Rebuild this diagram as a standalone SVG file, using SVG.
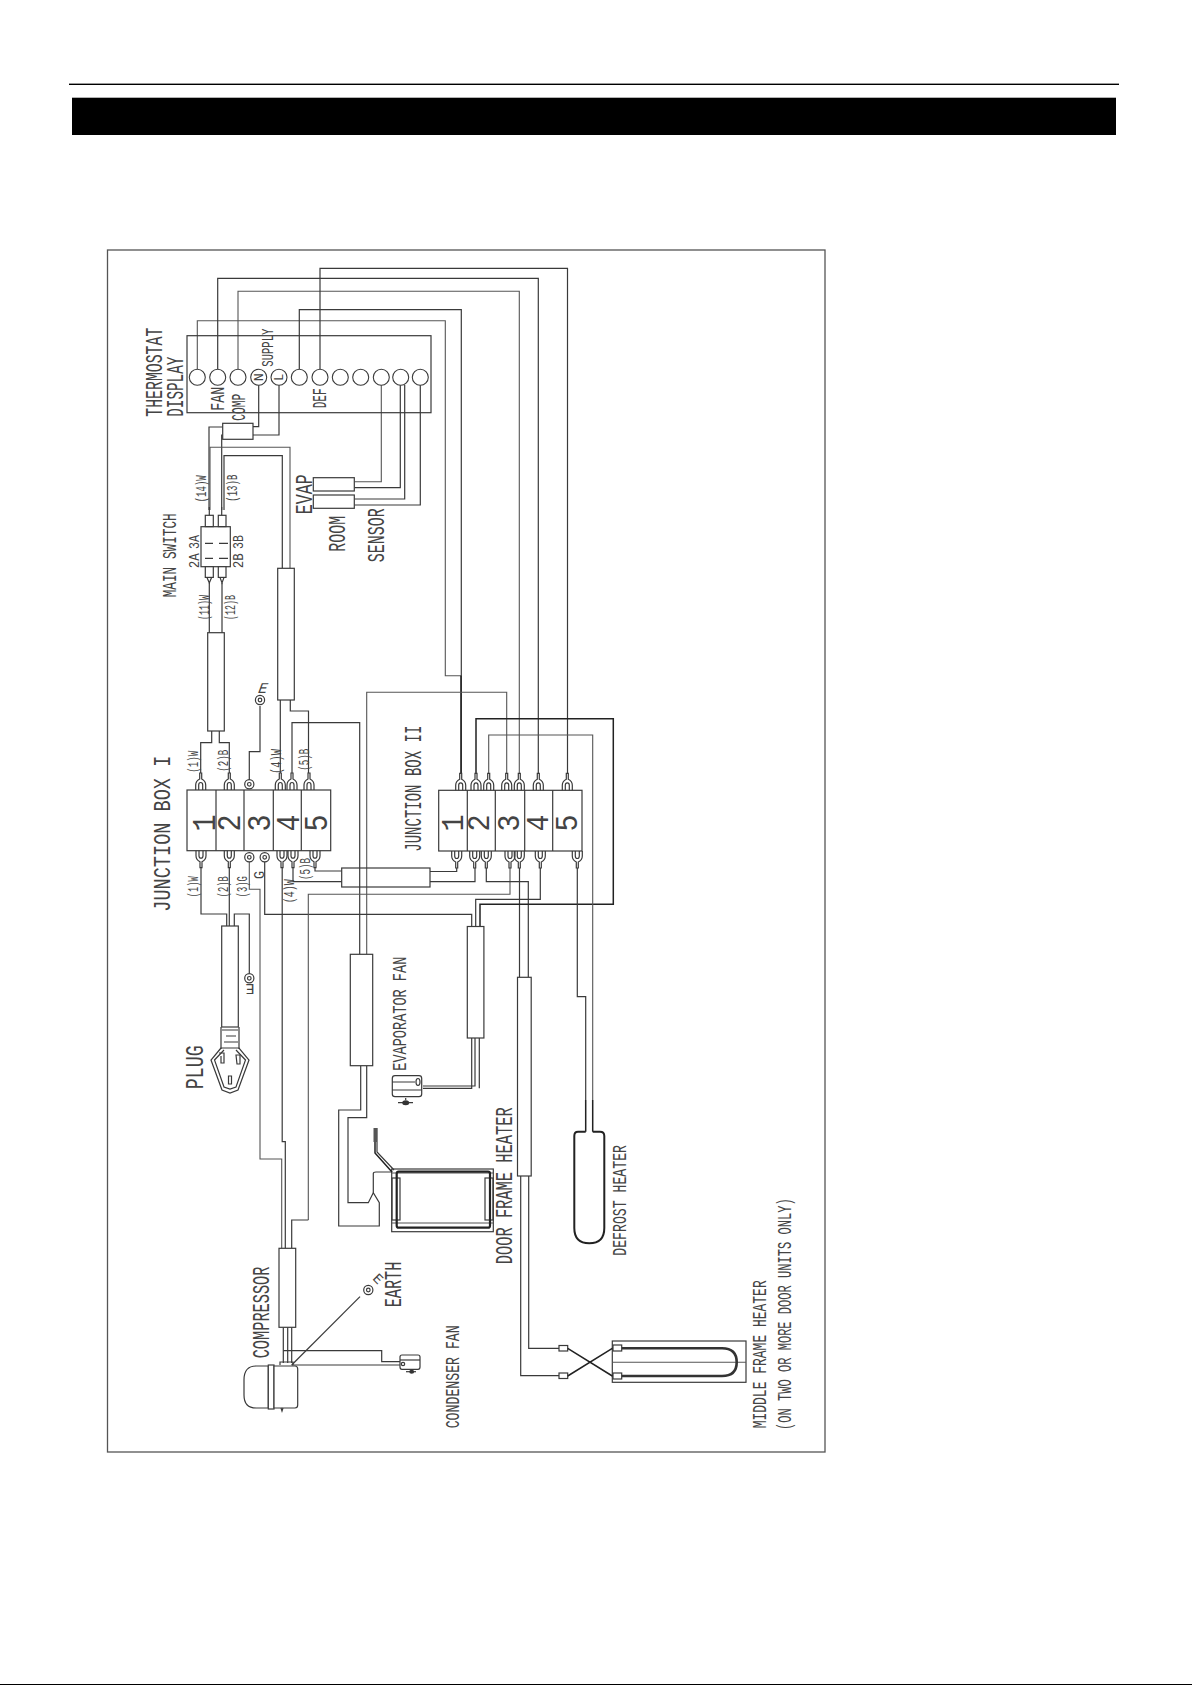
<svg xmlns="http://www.w3.org/2000/svg" width="1192" height="1685" viewBox="0 0 1192 1685">
<style>
.w{fill:none;stroke:#3a3a3a;stroke-width:1.2}
.d{fill:none;stroke:#222;stroke-width:1.5}
.g{fill:none;stroke:#555;stroke-width:1.1}
.s{fill:#fff;stroke:#3a3a3a;stroke-width:1.2}
.h{fill:none;stroke:#222;stroke-width:2}
text{font-family:"Liberation Mono","Courier New",monospace;fill:#444;font-weight:normal}
</style>
<defs>
<g id="forkT" class="w"><path d="M-5,0 V-5 Q-5,-9 -1,-11 V-17 H1 V-11 Q5,-9 5,-5 V0"/><path d="M-2,0 V-5 Q-2,-7.5 0,-7.5 Q2,-7.5 2,-5 V0"/></g>
<g id="forkB" class="w"><path d="M-5,0 V5 Q-5,9 -1,11 V17 H1 V11 Q5,9 5,5 V0"/><path d="M-2,0 V5 Q-2,7.5 0,7.5 Q2,7.5 2,5 V0"/></g>
<g id="ring" class="w"><circle r="4.6"/><circle r="1.8"/></g>
</defs>
<rect width="1192" height="1685" fill="#fff"/>
<g id="header">
<rect x="69" y="83.6" width="1050" height="1.4" fill="#000"/>
<rect x="72" y="97.7" width="1044" height="37.3" fill="#000"/>
<rect x="0" y="1684" width="1192" height="1" fill="#000"/>
</g>
<rect id="frame" x="107.5" y="250" width="717.5" height="1202" fill="none" stroke="#555" stroke-width="1.3"/>

<g id="connectors">
<path class="g" d="M197.3,369 V320.7 H445.3 V675.7 H461.3"/>
<path class="w" d="M299.3,369 V309.7 H461.3 V773"/>
<path class="d" d="M461,675.7 V773"/>
<path class="w" d="M217.7,369 V278.3 H538.3 V773"/>
<path class="g" d="M238,369 V291.3 H519.3 V773"/>
<path class="w" d="M320,369 V268.3 H567.5 V773"/>
<path class="w" d="M258.7,385 V426.7 H253 M279,385 V435 H253"/>
<path class="w" d="M222.7,427 H209 V510 M222.7,435 H221.7 V510"/>
<path class="g" d="M290,568 V447.3 H210 V510"/>
<path class="w" d="M282.3,568 V455.7 H224 V510"/>
<path class="g" d="M381.3,385 V481.7 H354.3"/>
<path class="w" d="M400.3,385 V487.7 H354.3 M404.7,385 V499 H354.3 M420.3,385 V505 H354.3"/>
<path class="w" d="M209.3,583 V632.7 M222,583 V632.7"/>
<path class="w" d="M200.7,773 V742.7 H211.7 V731 M229.3,773 V742.7 H219.3 V731"/>
<path class="w" d="M280.3,700 V773 M290.3,700 V711 H308.5 V773"/>
<path class="w" d="M292,773 V722.7 H359.7 V954.3"/>
<path class="g" d="M366.7,954.3 V692.3 H506.7 V773"/>
<path class="w" d="M249.3,780 V751.7 H260 V706"/>
<path class="w" d="M201,868 V914 H226.7 V926 M229.3,868 V926 M234.3,926 V914 H249.3 V973"/>
<path class="g" d="M249.3,862 V889.3 H260 V1159 H281.7 V1248.3"/>
<path class="w" d="M264.7,862 V914.3 H471.7 V926.5"/>
<path class="w" d="M282.2,868 V1141.7 H285.3 V1248.3"/>
<path class="w" d="M293,868 V881.7 H341.7 M315,868 V871 H341.7"/>
<path class="w" d="M430,871.5 H456.7 V868 M430,881.7 H475 V868"/>
<path class="g" d="M308.3,1220 V894.3 H510 V868"/>
<path class="w" d="M308.3,1220 H291.7 V1248.3"/>
<path class="w" d="M486.3,868 V881.7 H528.3 V977.3 M519.5,868 V977.3"/>
<path class="w" d="M540.3,868 V899.3 H475.7 V926.7"/>
<path class="d" d="M480,926.7 V904.3 H613.3 V718.7 H476 V773"/>
<path class="g" d="M488.7,773 V735 H592.7 V1100"/>
<path class="w" d="M577.3,868 V996.7 H585.7 V1100"/>
<path class="d" d="M585.7,1100 V1131.7 M592.7,1100 V1131.7"/>
<path class="w" d="M360.7,1065.7 V1110 H338.7 V1226 H379.3 V1202.7 L373.3,1192.7 L368.3,1202.7 H348 V1117.7 H366.7 V1065.7"/>
<path class="w" d="M373.3,1192.7 V1173.5 Q373.3,1172 376,1172 H392"/>
<path class="w" d="M471.7,1038 V1088.3 H423 M475,1038 V1086 H423 M479.3,1038 V1088.3"/>
<path class="w" d="M520.7,1176 V1375.7 H559 M528.7,1176 V1348.3 H559"/>
<path class="w" d="M283.3,1327.3 V1363 M287.7,1327.3 V1363 M291.7,1327.3 V1363"/>
<path class="w" d="M283.3,1350.7 H381.7 V1361.7 H400 M291.7,1365 H400"/>
<path class="w" d="M291.7,1365 L360,1296.7"/>
</g>

<g id="thermostat-display">
<rect class="w" x="187" y="335.7" width="244" height="77"/>
<g fill="#fff" stroke="#3a3a3a" stroke-width="1.1">
<circle cx="197.3" cy="377.3" r="8"/><circle cx="217.7" cy="377.3" r="8"/><circle cx="238" cy="377.3" r="8"/><circle cx="258.7" cy="377.3" r="8"/><circle cx="279" cy="377.3" r="8"/><circle cx="299.3" cy="377.3" r="8"/><circle cx="320" cy="377.3" r="8"/><circle cx="340.3" cy="377.3" r="8"/><circle cx="360.7" cy="377.3" r="8"/><circle cx="381.3" cy="377.3" r="8"/><circle cx="400.7" cy="377.3" r="8"/><circle cx="420.3" cy="377.3" r="8"/>
</g>
<text transform="translate(262.5,377.3) rotate(-90)" font-size="13" text-anchor="middle" textLength="8" lengthAdjust="spacingAndGlyphs">N</text>
<text transform="translate(283,377.3) rotate(-90)" font-size="13" text-anchor="middle" textLength="7" lengthAdjust="spacingAndGlyphs">L</text>
<text transform="translate(161.7,416.7) rotate(-90)" font-size="24" textLength="89" lengthAdjust="spacingAndGlyphs">THERMOSTAT</text>
<text transform="translate(183.3,416.7) rotate(-90)" font-size="24" textLength="60" lengthAdjust="spacingAndGlyphs">DISPLAY</text>
<text transform="translate(224,410.7) rotate(-90)" font-size="21" textLength="24" lengthAdjust="spacingAndGlyphs">FAN</text>
<text transform="translate(245.3,420.7) rotate(-90)" font-size="21" textLength="27" lengthAdjust="spacingAndGlyphs">COMP</text>
<text transform="translate(273.3,366.7) rotate(-90)" font-size="16" textLength="38" lengthAdjust="spacingAndGlyphs">SUPPLY</text>
<text transform="translate(326,408.3) rotate(-90)" font-size="21" textLength="20" lengthAdjust="spacingAndGlyphs">DEF</text>
</g>

<g id="supply-sleeve"><rect class="s" x="222.7" y="423.3" width="30.3" height="16"/></g>

<g id="sensors">
<rect class="s" x="313.3" y="477.7" width="41" height="13.3"/>
<rect class="s" x="313.3" y="495" width="41" height="13.3"/>
<text transform="translate(311.7,514.3) rotate(-90)" font-size="24" textLength="40" lengthAdjust="spacingAndGlyphs">EVAP</text>
<text transform="translate(345,551.7) rotate(-90)" font-size="23" textLength="36" lengthAdjust="spacingAndGlyphs">ROOM</text>
<text transform="translate(384.3,562.3) rotate(-90)" font-size="24" textLength="54" lengthAdjust="spacingAndGlyphs">SENSOR</text>
</g>

<g id="main-switch">
<rect class="s" x="201" y="526.7" width="29.3" height="40"/>
<rect class="s" x="205.3" y="515.3" width="8" height="11.3"/><rect class="s" x="218.3" y="515.3" width="7.7" height="11.3"/>
<rect class="s" x="205.3" y="566.7" width="8" height="10.7"/><rect class="s" x="218.3" y="566.7" width="7.7" height="10.7"/>
<path class="w" d="M209.3,515.3 L209.3,507 M221.7,515.3 V507 M207,577.4 L209.3,583 L211.6,577.4 M220,577.4 L222,583 L224,577.4"/>
<path class="w" d="M205,543.3 H213 M219,543.3 H228 M205,558.3 H213 M219,558.3 H228"/>
<text transform="translate(176,597.3) rotate(-90)" font-size="20" textLength="84" lengthAdjust="spacingAndGlyphs">MAIN SWITCH</text>
<text transform="translate(199.3,568.3) rotate(-90)" font-size="15" textLength="15" lengthAdjust="spacingAndGlyphs">2A</text>
<text transform="translate(199.3,549) rotate(-90)" font-size="15" textLength="14" lengthAdjust="spacingAndGlyphs">3A</text>
<text transform="translate(242.7,568.3) rotate(-90)" font-size="15" textLength="15" lengthAdjust="spacingAndGlyphs">2B</text>
<text transform="translate(242.7,549) rotate(-90)" font-size="15" textLength="14" lengthAdjust="spacingAndGlyphs">3B</text>
<text transform="translate(206,502.3) rotate(-90)" font-size="14" textLength="27" lengthAdjust="spacingAndGlyphs">(14)W</text>
<text transform="translate(237.3,501.7) rotate(-90)" font-size="14" textLength="27" lengthAdjust="spacingAndGlyphs">(13)B</text>
<text transform="translate(209,620) rotate(-90)" font-size="14" textLength="25" lengthAdjust="spacingAndGlyphs">(11)W</text>
<text transform="translate(235,620) rotate(-90)" font-size="14" textLength="25" lengthAdjust="spacingAndGlyphs">(12)B</text>
</g>

<g id="sleeves">
<rect class="s" x="207.7" y="632.7" width="16.6" height="98.3"/>
<rect class="s" x="277.7" y="568.3" width="16.6" height="131.7"/>
<rect class="s" x="221.7" y="926" width="16.6" height="101"/>
<rect class="s" x="350.3" y="954.3" width="22.4" height="111.4"/>
<rect class="s" x="467.3" y="926.5" width="16.6" height="111.5"/>
<rect class="s" x="517.5" y="977.3" width="13.7" height="198.7"/>
<rect class="s" x="279" y="1248.3" width="16.7" height="79"/>
<rect x="341.7" y="868" width="88.3" height="19" fill="none" stroke="#3a3a3a" stroke-width="1.2"/>
</g>

<g id="junction-box-1">
<rect class="w" x="187" y="790" width="143.7" height="60.7"/>
<path class="w" d="M216,790 V850.7 M244,790 V850.7 M273.3,790 V850.7 M301.3,790 V850.7"/>
<use href="#forkT" x="200.7" y="790"/><use href="#forkT" x="229.3" y="790"/><use href="#forkT" x="280.3" y="790"/><use href="#forkT" x="292" y="790"/><use href="#forkT" x="309" y="790"/>
<use href="#ring" x="249.3" y="784.3"/>
<use href="#forkB" x="201" y="850.7"/><use href="#forkB" x="229.3" y="850.7"/><use href="#forkB" x="282" y="850.7"/><use href="#forkB" x="293" y="850.7"/><use href="#forkB" x="315" y="850.7"/>
<use href="#ring" x="249.3" y="857.3"/><use href="#ring" x="264.7" y="857.3"/>
<use href="#ring" x="260" y="700"/>
<text transform="translate(257,693) skewX(-20)" font-size="15">E</text>
<use href="#ring" x="249.3" y="978.3"/>
<text transform="translate(254.5,984) rotate(180)" font-size="15">E</text>
<text transform="translate(215,823) rotate(-90)" font-size="33" text-anchor="middle" textLength="17" lengthAdjust="spacingAndGlyphs">1</text>
<text transform="translate(240,823) rotate(-90)" font-size="33" text-anchor="middle" textLength="17" lengthAdjust="spacingAndGlyphs">2</text>
<text transform="translate(270,823) rotate(-90)" font-size="33" text-anchor="middle" textLength="17" lengthAdjust="spacingAndGlyphs">3</text>
<text transform="translate(299.3,823) rotate(-90)" font-size="33" text-anchor="middle" textLength="17" lengthAdjust="spacingAndGlyphs">4</text>
<text transform="translate(327.3,823) rotate(-90)" font-size="33" text-anchor="middle" textLength="17" lengthAdjust="spacingAndGlyphs">5</text>
<text transform="translate(170,911.7) rotate(-90)" font-size="23" textLength="156" lengthAdjust="spacingAndGlyphs">JUNCTION BOX I</text>
<text transform="translate(198.3,772.7) rotate(-90)" font-size="14" textLength="22" lengthAdjust="spacingAndGlyphs">(1)W</text>
<text transform="translate(228.3,771.7) rotate(-90)" font-size="14" textLength="22" lengthAdjust="spacingAndGlyphs">(2)B</text>
<text transform="translate(280.7,774) rotate(-90)" font-size="14" textLength="25" lengthAdjust="spacingAndGlyphs">(4)W</text>
<text transform="translate(309.3,770.7) rotate(-90)" font-size="14" textLength="22" lengthAdjust="spacingAndGlyphs">(5)B</text>
<text transform="translate(198.3,897.3) rotate(-90)" font-size="14" textLength="21" lengthAdjust="spacingAndGlyphs">(1)W</text>
<text transform="translate(227.7,897.3) rotate(-90)" font-size="14" textLength="21" lengthAdjust="spacingAndGlyphs">(2)B</text>
<text transform="translate(246.7,897.3) rotate(-90)" font-size="14" textLength="21" lengthAdjust="spacingAndGlyphs">(3)G</text>
<text transform="translate(264,879) rotate(-90)" font-size="14" textLength="8" lengthAdjust="spacingAndGlyphs">G</text>
<text transform="translate(294,903.3) rotate(-90)" font-size="14" textLength="24" lengthAdjust="spacingAndGlyphs">(4)W</text>
<text transform="translate(310,880) rotate(-90)" font-size="14" textLength="22" lengthAdjust="spacingAndGlyphs">(5)B</text>
</g>

<g id="junction-box-2">
<rect class="w" x="438.7" y="790.3" width="143.3" height="60.7"/>
<path class="w" d="M467.3,790.3 V851 M495.3,790.3 V851 M524.7,790.3 V851 M552.7,790.3 V851"/>
<use href="#forkT" x="460.7" y="790.3"/><use href="#forkT" x="476" y="790.3"/><use href="#forkT" x="488.7" y="790.3"/><use href="#forkT" x="506.7" y="790.3"/><use href="#forkT" x="519.3" y="790.3"/><use href="#forkT" x="538.3" y="790.3"/><use href="#forkT" x="567.3" y="790.3"/>
<use href="#forkB" x="456.7" y="851"/><use href="#forkB" x="474.7" y="851"/><use href="#forkB" x="486.3" y="851"/><use href="#forkB" x="510" y="851"/><use href="#forkB" x="519.3" y="851"/><use href="#forkB" x="540.3" y="851"/><use href="#forkB" x="577.3" y="851"/>
<text transform="translate(463.3,823) rotate(-90)" font-size="32" text-anchor="middle" textLength="17" lengthAdjust="spacingAndGlyphs">1</text>
<text transform="translate(489.3,823) rotate(-90)" font-size="32" text-anchor="middle" textLength="17" lengthAdjust="spacingAndGlyphs">2</text>
<text transform="translate(519,823) rotate(-90)" font-size="32" text-anchor="middle" textLength="17" lengthAdjust="spacingAndGlyphs">3</text>
<text transform="translate(547.7,823) rotate(-90)" font-size="32" text-anchor="middle" textLength="17" lengthAdjust="spacingAndGlyphs">4</text>
<text transform="translate(576.7,823) rotate(-90)" font-size="32" text-anchor="middle" textLength="17" lengthAdjust="spacingAndGlyphs">5</text>
<text transform="translate(420.7,851.7) rotate(-90)" font-size="23" textLength="126" lengthAdjust="spacingAndGlyphs">JUNCTION BOX II</text>
</g>

<g id="plug">
<path class="w" d="M221,1027 V1049 M239,1027 V1049 M222,1030 H238 M226,1036 H236 M224,1042 H238"/>
<path class="w" d="M221,1048 L211,1060 L222,1090 L230,1093 L238,1090 L249,1060 L239,1048 Z"/>
<path class="w" d="M224,1050 L214.5,1060 L224,1087 L230,1089 L236,1087 L245.5,1060 L236,1050"/>
<path class="w" d="M219,1053 H224 V1063 H221 V1056 M236,1055 H240 V1064 H237 Z M228.5,1076 H231.5 V1084 H228.5 Z"/>
<text transform="translate(203.3,1089.3) rotate(-90)" font-size="25" textLength="44" lengthAdjust="spacingAndGlyphs">PLUG</text>
</g>

<g id="evaporator-fan">
<path class="s" d="M395,1075.7 H419 Q421.7,1075.7 421.7,1078.5 V1094 Q421.7,1096.7 419,1096.7 H395 Q392.3,1096.7 392.3,1094 V1078.5 Q392.3,1075.7 395,1075.7 Z"/>
<path class="w" d="M392.3,1082 H415 M392.3,1090 H421.7"/>
<ellipse class="s" cx="418" cy="1082" rx="2" ry="3.5"/>
<path class="w" d="M398,1102.7 H413 M405.7,1098 V1100"/>
<ellipse cx="405.7" cy="1102.7" rx="3.5" ry="2.5" fill="#333"/>
<text transform="translate(406,1070.7) rotate(-90)" font-size="21" textLength="114" lengthAdjust="spacingAndGlyphs">EVAPORATOR FAN</text>
</g>

<g id="door-frame-heater">
<rect class="w" x="391.7" y="1169" width="101.6" height="62.7"/>
<path class="g" d="M391.7,1173 H493.3 M391.7,1223 H493.3"/>
<rect class="w" x="392" y="1178" width="8" height="42"/>
<rect class="w" x="485" y="1178" width="8" height="42"/>
<rect x="396.7" y="1171.7" width="93.3" height="56" rx="2" fill="none" stroke="#222" stroke-width="2.2"/>
<path class="d" d="M375,1128 V1153 L392,1172"/>
<path class="w" d="M377,1128 V1152 L394,1170"/>
<path d="M373.5,1128 h3.5 v14 h-3.5 Z" fill="#555"/>
<text transform="translate(511.7,1264.3) rotate(-90)" font-size="24" textLength="157" lengthAdjust="spacingAndGlyphs">DOOR FRAME HEATER</text>
</g>

<g id="defrost-heater">
<path class="h" d="M585.7,1131.7 H578 Q574.3,1131.7 574.3,1136 V1228 Q574.3,1243.3 589.3,1243.3 Q604.3,1243.3 604.3,1228 V1136 Q604.3,1131.7 600,1131.7 H592.7"/>
<text transform="translate(625.7,1255.7) rotate(-90)" font-size="21" textLength="110.7" lengthAdjust="spacingAndGlyphs">DEFROST HEATER</text>
</g>

<g id="middle-frame-heater">
<rect class="w" x="612.3" y="1341" width="133.7" height="41.3"/>
<path class="g" d="M612.3,1362.3 H746"/>
<path d="M612.3,1348.3 H722 Q736.7,1348.3 736.7,1362.3 Q736.7,1376 722,1376 H612.3" fill="none" stroke="#333" stroke-width="2.6"/>
<rect class="s" x="559" y="1345.5" width="8.7" height="5.5"/><rect class="s" x="559" y="1373" width="8.7" height="5.5"/>
<rect class="s" x="613" y="1345" width="8.7" height="6"/><rect class="s" x="613" y="1373" width="8.7" height="6"/>
<path class="d" d="M567.7,1348.3 L612.3,1376 M567.7,1376 L612.3,1348.3"/>
<text transform="translate(766,1428.3) rotate(-90)" font-size="20" textLength="148" lengthAdjust="spacingAndGlyphs">MIDDLE FRAME HEATER</text>
<text transform="translate(791,1430) rotate(-90)" font-size="20" textLength="231.7" lengthAdjust="spacingAndGlyphs">(ON TWO OR MORE DOOR UNITS ONLY)</text>
</g>

<g id="compressor">
<path class="s" d="M268.3,1366 H256 Q244,1366 244,1380 V1395 Q244,1408 256,1408 H268.3 Z"/>
<rect class="s" x="268.3" y="1365" width="5.7" height="44"/>
<path class="s" d="M274,1366 H295 Q297.7,1366 297.7,1369 V1405 Q297.7,1408 295,1408 H274 Z"/>
<path class="w" d="M280,1365 V1362 H293 V1365 M281,1408 L282,1411 L283,1408"/>
<text transform="translate(269.3,1358.3) rotate(-90)" font-size="24" textLength="91.7" lengthAdjust="spacingAndGlyphs">COMPRESSOR</text>
<use href="#ring" x="368.3" y="1290"/>
<text transform="translate(372,1279) rotate(45)" font-size="14">E</text>
<text transform="translate(400.7,1307.3) rotate(-90)" font-size="24" textLength="45.7" lengthAdjust="spacingAndGlyphs">EARTH</text>
</g>

<g id="condenser-fan">
<path class="s" d="M402,1355 H418 Q420,1355 420,1357 V1367 Q420,1369.3 418,1369.3 H402 Q400,1369.3 400,1367 V1357 Q400,1355 402,1355 Z"/>
<path class="w" d="M400,1360 H420"/>
<circle class="s" cx="403" cy="1364" r="1.7"/>
<path class="w" d="M406,1371.7 H416"/>
<ellipse cx="411.7" cy="1371.7" rx="2.5" ry="2" fill="#333"/>
<text transform="translate(459.3,1428.3) rotate(-90)" font-size="21" textLength="103" lengthAdjust="spacingAndGlyphs">CONDENSER FAN</text>
</g>
</svg>
